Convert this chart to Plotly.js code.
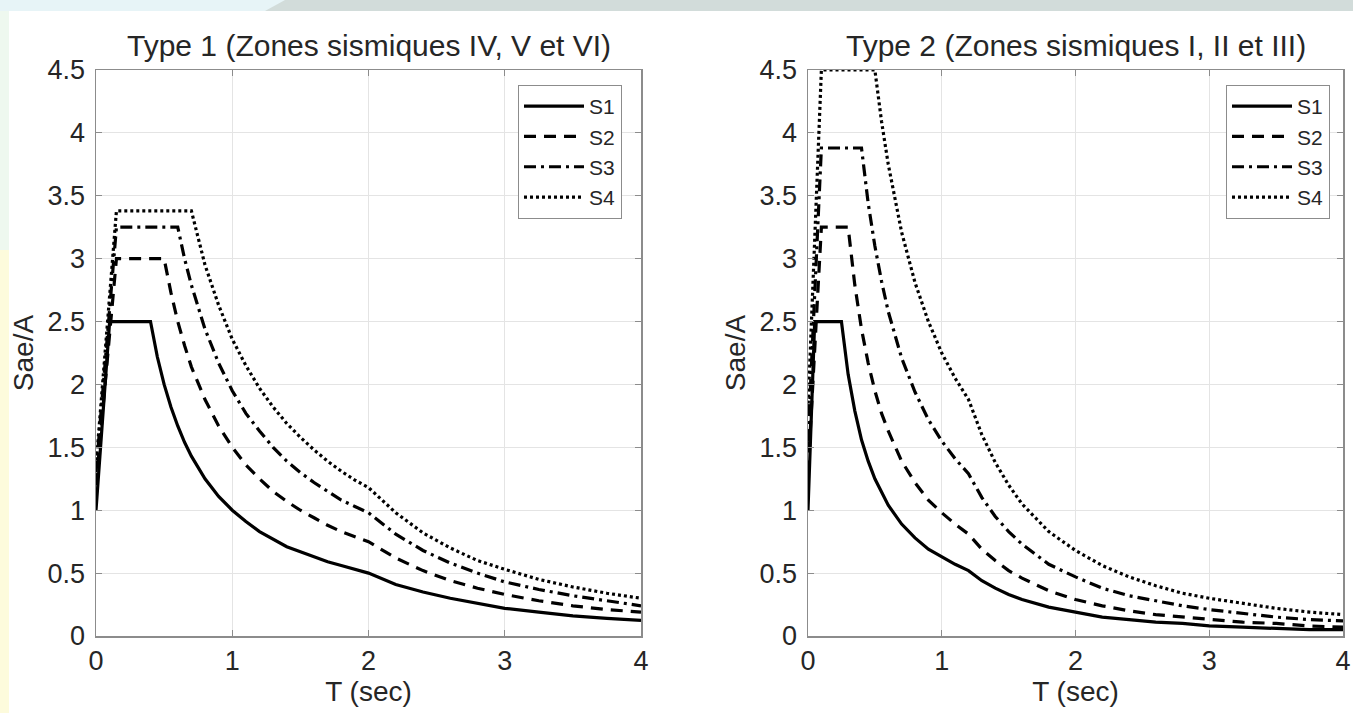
<!DOCTYPE html>
<html>
<head>
<meta charset="utf-8">
<script src="https://cdn.plot.ly/plotly-3.0.1.min.js"></script>
<style>
html,body{margin:0;padding:0;background:#ffffff;}
#chart{width:1353px;height:713px;}
</style>
</head>
<body>
<div id="chart"></div>
<script>
// ---- Data ----
var seriesNames = ["S1", "S2", "S3", "S4"];
var titleType1 = "Type 1 (Zones sismiques IV, V et VI)";
var titleType2 = "Type 2 (Zones sismiques I, II et III)";
var xTitle = "T (sec)";
var yTitle = "Sae/A";
var xTickVals = [0, 1, 2, 3, 4];
var xTickText = ["0", "1", "2", "3", "4"];
var yTickVals = [0, 0.5, 1, 1.5, 2, 2.5, 3, 3.5, 4, 4.5];
var yTickText = ["0", "0.5", "1", "1.5", "2", "2.5", "3", "3.5", "4", "4.5"];

// Type 1 periods (sec)
var T1 = [0, 0.1, 0.15, 0.4, 0.45, 0.5, 0.55, 0.6, 0.65, 0.7, 0.8, 0.9, 1.0, 1.1, 1.2, 1.3, 1.4, 1.5, 1.6, 1.7, 1.8, 1.9, 2.0, 2.2, 2.4, 2.6, 2.8, 3.0, 3.25, 3.5, 3.75, 4.0];
var t1S1 = [1.0, 2.5, 2.5, 2.5, 2.22, 2.0, 1.82, 1.67, 1.54, 1.43, 1.25, 1.11, 1.0, 0.91, 0.83, 0.77, 0.71, 0.67, 0.63, 0.59, 0.56, 0.53, 0.5, 0.41, 0.35, 0.3, 0.26, 0.22, 0.19, 0.16, 0.14, 0.125];
var t1S2 = [1.2, 2.4, 3.0, 3.0, 3.0, 3.0, 2.73, 2.5, 2.31, 2.14, 1.88, 1.67, 1.5, 1.36, 1.25, 1.15, 1.07, 1.0, 0.94, 0.88, 0.83, 0.79, 0.75, 0.62, 0.52, 0.44, 0.38, 0.33, 0.28, 0.24, 0.21, 0.19];
var t1S3 = [1.3, 2.6, 3.25, 3.25, 3.25, 3.25, 3.25, 3.25, 3.0, 2.79, 2.44, 2.17, 1.95, 1.77, 1.63, 1.5, 1.39, 1.3, 1.22, 1.15, 1.08, 1.03, 0.98, 0.81, 0.68, 0.58, 0.5, 0.43, 0.37, 0.32, 0.28, 0.24];
var t1S4 = [1.35, 2.7, 3.38, 3.38, 3.38, 3.38, 3.38, 3.38, 3.38, 3.38, 2.95, 2.63, 2.36, 2.15, 1.97, 1.82, 1.69, 1.58, 1.48, 1.39, 1.31, 1.24, 1.18, 0.98, 0.82, 0.7, 0.6, 0.53, 0.45, 0.39, 0.34, 0.3];

// Type 2 periods (sec)
var T2 = [0, 0.05, 0.1, 0.25, 0.3, 0.35, 0.4, 0.45, 0.5, 0.55, 0.6, 0.7, 0.8, 0.9, 1.0, 1.1, 1.2, 1.3, 1.4, 1.5, 1.6, 1.8, 2.0, 2.2, 2.4, 2.6, 2.8, 3.0, 3.25, 3.5, 3.75, 4.0];
var t2S1 = [1.0, 2.5, 2.5, 2.5, 2.08, 1.79, 1.56, 1.39, 1.25, 1.14, 1.04, 0.89, 0.78, 0.69, 0.63, 0.57, 0.52, 0.44, 0.38, 0.33, 0.29, 0.23, 0.19, 0.15, 0.13, 0.11, 0.1, 0.08, 0.07, 0.06, 0.05, 0.05];
var t2S2 = [1.3, 2.28, 3.25, 3.25, 3.25, 2.79, 2.44, 2.17, 1.95, 1.77, 1.63, 1.39, 1.22, 1.08, 0.98, 0.89, 0.81, 0.69, 0.6, 0.52, 0.46, 0.36, 0.29, 0.24, 0.2, 0.17, 0.15, 0.13, 0.11, 0.1, 0.08, 0.07];
var t2S3 = [1.55, 2.71, 3.88, 3.88, 3.88, 3.88, 3.88, 3.44, 3.1, 2.82, 2.58, 2.21, 1.94, 1.72, 1.55, 1.41, 1.29, 1.1, 0.95, 0.83, 0.73, 0.57, 0.47, 0.38, 0.32, 0.28, 0.24, 0.21, 0.18, 0.15, 0.13, 0.12];
var t2S4 = [1.8, 3.15, 4.5, 4.5, 4.5, 4.5, 4.5, 4.5, 4.5, 4.09, 3.75, 3.21, 2.81, 2.5, 2.25, 2.05, 1.88, 1.6, 1.38, 1.2, 1.05, 0.83, 0.68, 0.56, 0.47, 0.4, 0.34, 0.3, 0.26, 0.22, 0.19, 0.17];

// ---- Styling ----
var FONT = "Liberation Sans, Arial, Helvetica, sans-serif";
var TXT = "#262626";
var dashes = ["solid", "12px,8px", "12px,5px,3px,5px", "3px,3px"];
var LW = 3.2;

var type1 = [t1S1, t1S2, t1S3, t1S4];
var type2 = [t2S1, t2S2, t2S3, t2S4];

var traces = [];
for (var i = 0; i < 4; i++) {
  traces.push({
    x: T1, y: type1[i], name: seriesNames[i], type: "scatter", mode: "lines",
    xaxis: "x", yaxis: "y", legend: "legend",
    line: {color: "#000000", width: LW, dash: dashes[i]}
  });
}
for (var j = 0; j < 4; j++) {
  traces.push({
    x: T2, y: type2[j], name: seriesNames[j], type: "scatter", mode: "lines",
    xaxis: "x2", yaxis: "y2", legend: "legend2",
    line: {color: "#000000", width: LW, dash: dashes[j]}
  });
}

var W = 1353, H = 713;
function px(x) { return x / W; }
function py(y) { return 1 - y / H; }

var xd1 = [px(96), px(641)];
var xd2 = [px(808), px(1343)];
var yd = [py(636), py(70)];

function xaxisDef(anchor, domain) {
  return {
    domain: domain, anchor: anchor, range: [0, 4],
    tickvals: xTickVals, ticktext: xTickText,
    ticks: "inside", ticklen: 6, tickcolor: "#8c8c8c", tickwidth: 1,
    showgrid: true, gridcolor: "#e4e4e4", gridwidth: 1,
    showline: true, linecolor: "#8c8c8c", linewidth: 1.5, mirror: "ticks",
    zeroline: false, ticklabeloverflow: "allow",
    tickfont: {family: FONT, size: 27, color: TXT},
    title: {text: xTitle, font: {family: FONT, size: 28, color: TXT}, standoff: 4},
    fixedrange: true
  };
}
function yaxisDef(anchor, domain) {
  return {
    domain: domain, anchor: anchor, range: [0, 4.5],
    tickvals: yTickVals, ticktext: yTickText,
    ticks: "inside", ticklen: 6, tickcolor: "#8c8c8c", tickwidth: 1,
    showgrid: true, gridcolor: "#e4e4e4", gridwidth: 1,
    showline: true, linecolor: "#8c8c8c", linewidth: 1.5, mirror: "ticks",
    zeroline: false, ticklabelstandoff: 4,
    tickfont: {family: FONT, size: 27, color: TXT},
    title: {text: yTitle, font: {family: FONT, size: 28, color: TXT}, standoff: 6},
    fixedrange: true
  };
}

var legendDef = function (xr) {
  return {
    x: xr, y: py(85), xanchor: "right", yanchor: "top",
    bgcolor: "#ffffff", bordercolor: "#8c8c8c", borderwidth: 1,
    font: {family: FONT, size: 21, color: TXT},
    itemwidth: 60, tracegroupgap: 0
  };
};

var layout = {
  width: W, height: H,
  margin: {l: 0, r: 0, t: 0, b: 0},
  paper_bgcolor: "#ffffff",
  plot_bgcolor: "#ffffff",
  showlegend: true,
  xaxis: xaxisDef("y", xd1),
  yaxis: yaxisDef("x", yd),
  xaxis2: xaxisDef("y2", xd2),
  yaxis2: yaxisDef("x2", yd),
  legend: legendDef(px(622)),
  legend2: legendDef(px(1330)),
  annotations: [
    {text: titleType1, xref: "paper", yref: "paper", x: (xd1[0] + xd1[1]) / 2, y: py(45),
     xanchor: "center", yanchor: "middle", showarrow: false,
     font: {family: FONT, size: 30, color: TXT}},
    {text: titleType2, xref: "paper", yref: "paper", x: (xd2[0] + xd2[1]) / 2, y: py(45),
     xanchor: "center", yanchor: "middle", showarrow: false,
     font: {family: FONT, size: 30, color: TXT}}
  ],
  shapes: [
    {type: "rect", xref: "paper", yref: "paper", x0: 0, x1: 1, y0: py(11), y1: 1,
     fillcolor: "#d2dcda", line: {width: 0}, layer: "below"},
    {type: "path", xref: "paper", yref: "paper",
     path: "M 0 1 L " + px(285) + " 1 L " + px(265) + " " + py(11) + " L 0 " + py(11) + " Z",
     fillcolor: "#e7f4f7", line: {width: 0}, layer: "below"},
    {type: "rect", xref: "paper", yref: "paper", x0: 0, x1: px(9), y0: py(250), y1: py(11),
     fillcolor: "#eef8ef", line: {width: 0}, layer: "below"},
    {type: "rect", xref: "paper", yref: "paper", x0: 0, x1: px(9), y0: 0, y1: py(250),
     fillcolor: "#fdfbdc", line: {width: 0}, layer: "below"}
  ]
};

Plotly.newPlot("chart", traces, layout, {displayModeBar: false, staticPlot: true});
</script>
</body>
</html>
